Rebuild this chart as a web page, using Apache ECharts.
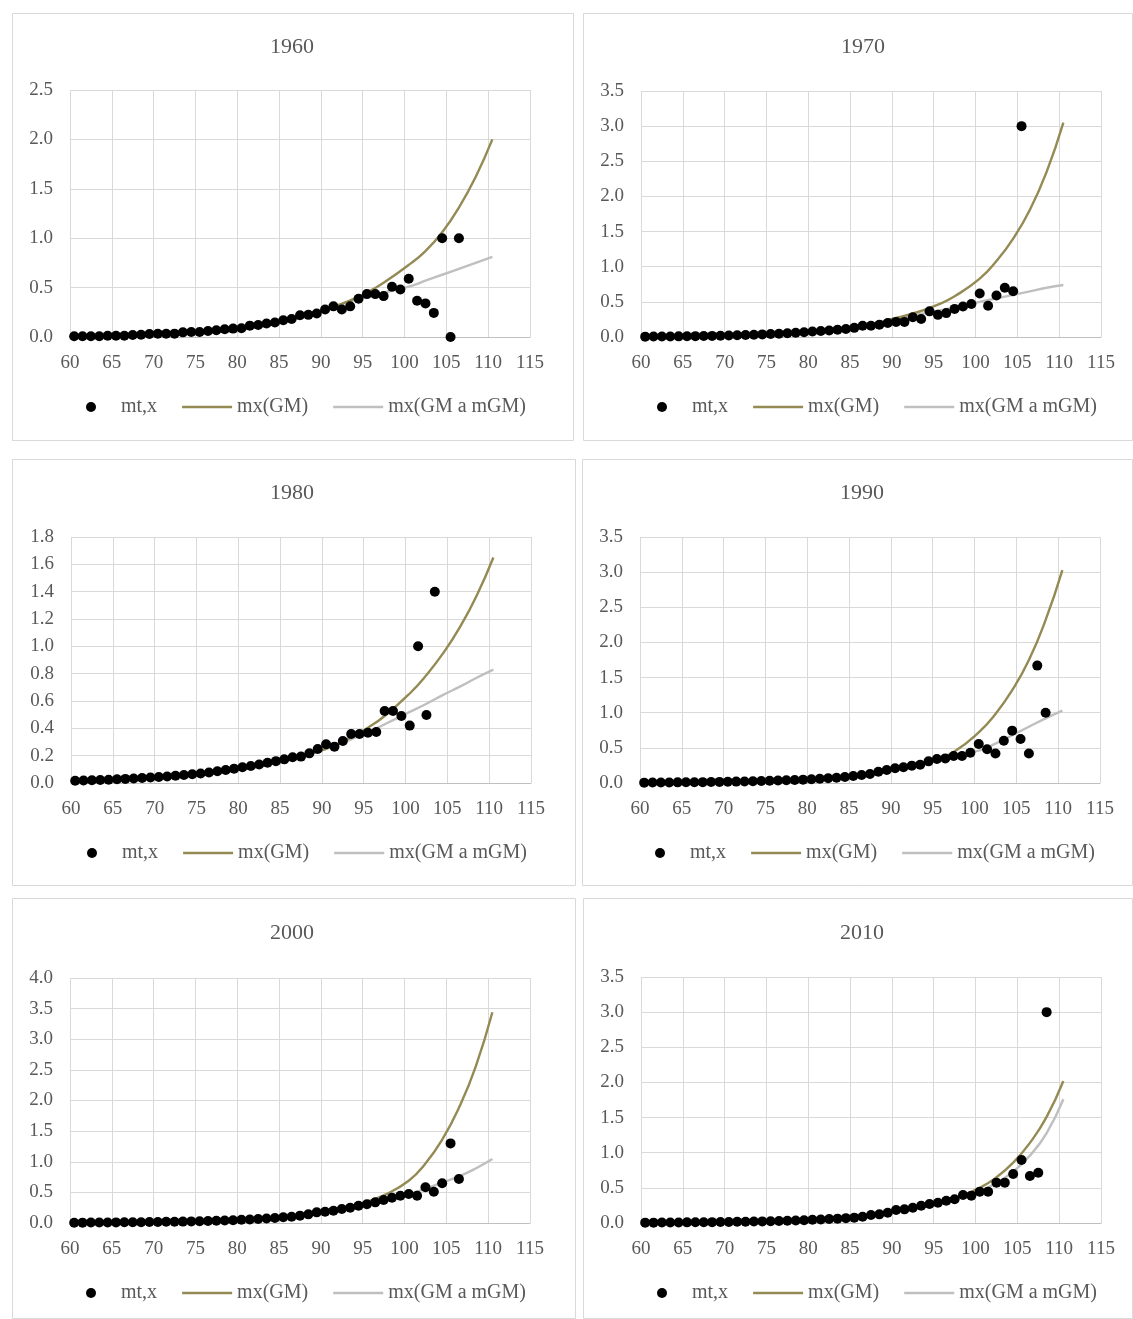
<!DOCTYPE html>
<html>
<head>
<meta charset="utf-8">
<script src="https://cdn.jsdelivr.net/npm/echarts@6/dist/echarts.min.js"></script>
<style>
html, body { margin: 0; padding: 0; background: #fff; }
#main { width: 1133px; height: 1319px; }
</style>
</head>
<body>
<div id="main"></div>
<script>
// observed rates start at age 60.5 and go up by one year
var firstAge = 60.5;
var curveAges = [60.5, 65.5, 70.5, 75.5, 80.5, 85.5, 90.5, 93.5, 95.5, 97.5, 100.5, 102.5, 104.5, 106.5, 108.5, 110.5];

var years = ['1960', '1970', '1980', '1990', '2000', '2010'];
var yMax = [2.5, 3.5, 1.8, 3.5, 4.0, 3.5];
var yStep = [0.5, 0.5, 0.2, 0.5, 0.5, 0.5];
var legendNames = ['mt,x', 'mx(GM)', 'mx(GM a mGM)'];

var mt1960 = [0.007, 0.007, 0.007, 0.007, 0.013, 0.013, 0.013, 0.02, 0.023, 0.03,
    0.033, 0.033, 0.034, 0.047, 0.05, 0.05, 0.06, 0.068, 0.078, 0.085,
    0.088, 0.115, 0.122, 0.136, 0.146, 0.17, 0.183, 0.22, 0.224, 0.237,
    0.278, 0.31, 0.278, 0.31, 0.387, 0.434, 0.434, 0.414, 0.509, 0.48,
    0.59, 0.366, 0.34, 0.244, 1.0, 0.0, 1.0];
var gm1960 = [0.009, 0.015, 0.025, 0.04, 0.075, 0.15, 0.275, 0.37, 0.45, 0.55, 0.73, 0.87, 1.06, 1.31, 1.62, 2.0];
var mgm1960 = [0.009, 0.015, 0.025, 0.04, 0.075, 0.15, 0.275, 0.36, 0.41, 0.45, 0.51, 0.57, 0.63, 0.69, 0.75, 0.81];

var mt1970 = [0.005, 0.006, 0.007, 0.008, 0.009, 0.011, 0.012, 0.014, 0.016, 0.018,
    0.021, 0.024, 0.028, 0.032, 0.037, 0.042, 0.047, 0.053, 0.06, 0.068,
    0.077, 0.085, 0.093, 0.102, 0.115, 0.13, 0.16, 0.16, 0.175, 0.2,
    0.215, 0.215, 0.28, 0.255, 0.365, 0.315, 0.34, 0.4, 0.435, 0.47,
    0.62, 0.445, 0.59, 0.70, 0.65, 3.0];
var gm1970 = [0.005, 0.009, 0.016, 0.03, 0.06, 0.13, 0.27, 0.37, 0.46, 0.58, 0.83, 1.08, 1.40, 1.81, 2.35, 3.05];
var mgm1970 = [0.005, 0.009, 0.016, 0.03, 0.06, 0.13, 0.26, 0.33, 0.375, 0.42, 0.50, 0.55, 0.60, 0.65, 0.70, 0.74];

var mt1980 = [0.017, 0.018, 0.02, 0.022, 0.024, 0.027, 0.03, 0.033, 0.036, 0.04,
    0.044, 0.048, 0.053, 0.058, 0.064, 0.07, 0.077, 0.086, 0.095, 0.105,
    0.115, 0.125, 0.135, 0.148, 0.16, 0.173, 0.188, 0.193, 0.217, 0.249,
    0.283, 0.266, 0.307, 0.358, 0.358, 0.368, 0.373, 0.527, 0.527, 0.49,
    0.42, 1.0, 0.497, 1.40];
var gm1980 = [0.014, 0.023, 0.037, 0.06, 0.1, 0.16, 0.25, 0.335, 0.405, 0.49, 0.655, 0.79, 0.95, 1.14, 1.37, 1.65];
var mgm1980 = [0.014, 0.023, 0.037, 0.06, 0.1, 0.16, 0.25, 0.32, 0.37, 0.43, 0.52, 0.58, 0.645, 0.705, 0.77, 0.83];

var mt1990 = [0.005, 0.006, 0.007, 0.008, 0.009, 0.01, 0.011, 0.012, 0.014, 0.016,
    0.018, 0.02, 0.022, 0.025, 0.028, 0.031, 0.035, 0.039, 0.043, 0.048,
    0.054, 0.06, 0.067, 0.075, 0.085, 0.10, 0.114, 0.128, 0.161, 0.185,
    0.209, 0.223, 0.247, 0.26, 0.308, 0.341, 0.35, 0.384, 0.384, 0.43,
    0.555, 0.479, 0.42, 0.60, 0.745, 0.626, 0.42, 1.67, 1.0];
var gm1990 = [0.004, 0.008, 0.015, 0.027, 0.05, 0.1, 0.19, 0.27, 0.34, 0.44, 0.72, 0.98, 1.32, 1.75, 2.32, 3.03];
var mgm1990 = [0.004, 0.008, 0.015, 0.027, 0.05, 0.1, 0.19, 0.27, 0.33, 0.40, 0.46, 0.56, 0.68, 0.80, 0.92, 1.03];

var mt2000 = [0.005, 0.006, 0.007, 0.008, 0.009, 0.01, 0.011, 0.012, 0.013, 0.015,
    0.017, 0.019, 0.021, 0.023, 0.026, 0.029, 0.033, 0.037, 0.041, 0.046,
    0.052, 0.058, 0.065, 0.073, 0.082, 0.093, 0.103, 0.12, 0.141, 0.174,
    0.185, 0.20, 0.228, 0.25, 0.283, 0.305, 0.337, 0.375, 0.413, 0.446,
    0.473, 0.446, 0.583, 0.511, 0.648, 1.30, 0.718];
var gm2000 = [0.003, 0.006, 0.012, 0.023, 0.047, 0.095, 0.19, 0.28, 0.35, 0.45, 0.69, 0.97, 1.36, 1.88, 2.55, 3.44];
var mgm2000 = [0.003, 0.006, 0.012, 0.023, 0.047, 0.095, 0.19, 0.26, 0.31, 0.37, 0.47, 0.56, 0.66, 0.76, 0.89, 1.045];

var mt2010 = [0.005, 0.005, 0.006, 0.007, 0.008, 0.009, 0.01, 0.011, 0.012, 0.013,
    0.015, 0.017, 0.019, 0.021, 0.023, 0.026, 0.029, 0.032, 0.036, 0.04,
    0.045, 0.05, 0.056, 0.062, 0.069, 0.076, 0.09, 0.114, 0.123, 0.147,
    0.185, 0.194, 0.218, 0.246, 0.27, 0.289, 0.317, 0.337, 0.398, 0.389,
    0.446, 0.446, 0.574, 0.574, 0.697, 0.896, 0.669, 0.716, 3.0];
var gm2010 = [0.005, 0.008, 0.015, 0.027, 0.05, 0.085, 0.165, 0.225, 0.28, 0.35, 0.50, 0.65, 0.86, 1.14, 1.51, 2.02];
var mgm2010 = [0.005, 0.008, 0.015, 0.027, 0.05, 0.085, 0.165, 0.225, 0.28, 0.35, 0.46, 0.57, 0.73, 0.96, 1.28, 1.76];

var mts = [mt1960, mt1970, mt1980, mt1990, mt2000, mt2010];
var gms = [gm1960, gm1970, gm1980, gm1990, gm2000, gm2010];
var mgms = [mgm1960, mgm1970, mgm1980, mgm1990, mgm2000, mgm2010];

// layout (pixels): panel boxes, plot areas, title centres, legend positions
var boxes = [[12, 13, 561, 427], [583, 13, 549, 427], [12, 459, 563, 426],
    [582, 459, 550, 426], [12, 898, 563, 420], [583, 898, 549, 420]];
var grids = [[70, 90, 460, 247], [641, 91, 460, 246], [71, 537, 460, 246],
    [640, 537, 460, 246], [70, 978, 460, 245], [641, 977, 460, 246]];
var titleX = [287, 858, 287, 857, 287, 857];
var titleY = [45, 45, 491, 491, 931, 931];
var legendDotX = [92, 663, 93, 661, 92, 663];
var legendY = [406, 406, 852, 852, 1292, 1292];

var font = 'Liberation Serif';
var textColor = '#595959';
var olive = '#948a54';
var gray = '#bfbfbf';
var lineIcon = 'path://M0 0H50V2.4H0Z';

var chart = echarts.init(document.getElementById('main'));

var option = {
    backgroundColor: '#fff',
    animation: false,
    title: [],
    legend: [],
    grid: [],
    xAxis: [],
    yAxis: [],
    series: [],
    graphic: []
};

for (var i = 0; i < years.length; i++) {
    var b = boxes[i];
    option.graphic.push({
        type: 'rect',
        shape: { x: b[0] + 0.5, y: b[1] + 0.5, width: b[2], height: b[3] },
        style: { fill: 'none', stroke: '#d9d9d9', lineWidth: 1 },
        z: -1
    });
    option.title.push({
        text: years[i],
        left: titleX[i],
        top: titleY[i] - 14,
        textAlign: 'center',
        textStyle: { fontFamily: font, fontSize: 22, fontWeight: 'normal', color: textColor }
    });
    option.legend.push({
        left: legendDotX[i] - 11,
        top: legendY[i] - 14,
        itemWidth: 50,
        itemHeight: 10,
        itemGap: 25,
        textStyle: { fontFamily: font, fontSize: 20, color: textColor },
        data: [
            { name: legendNames[0], icon: 'circle' },
            { name: legendNames[1], icon: lineIcon },
            { name: legendNames[2], icon: lineIcon }
        ]
    });
    var g = grids[i];
    option.grid.push({ left: g[0], top: g[1], width: g[2], height: g[3] });
    option.xAxis.push({
        type: 'value',
        gridIndex: i,
        min: 60,
        max: 115,
        interval: 5,
        axisLine: { show: true, lineStyle: { color: gray, width: 1 } },
        axisTick: { show: false },
        axisLabel: { margin: 17, fontFamily: font, fontSize: 19, color: textColor },
        splitLine: { show: true, lineStyle: { color: '#d9d9d9', width: 1 } }
    });
    option.yAxis.push({
        type: 'value',
        gridIndex: i,
        min: 0,
        max: yMax[i],
        interval: yStep[i],
        axisLine: { show: false },
        axisTick: { show: false },
        axisLabel: {
            margin: 17,
            fontFamily: font,
            fontSize: 19,
            color: textColor,
            formatter: function (v) { return v.toFixed(1); }
        },
        splitLine: { show: true, lineStyle: { color: '#d9d9d9', width: 1 } }
    });

    var dots = mts[i].map(function (v, k) { return [firstAge + k, v]; });
    var gmLine = curveAges.map(function (a, k) { return [a, gms[i][k]]; });
    var mgmLine = curveAges.map(function (a, k) { return [a, mgms[i][k]]; });

    option.series.push({
        name: legendNames[2],
        type: 'line',
        xAxisIndex: i,
        yAxisIndex: i,
        data: mgmLine,
        showSymbol: false,
        symbol: 'none',
        smooth: 0.5,
        lineStyle: { color: gray, width: 2.4 },
        itemStyle: { color: gray },
        z: 2
    }, {
        name: legendNames[1],
        type: 'line',
        xAxisIndex: i,
        yAxisIndex: i,
        data: gmLine,
        showSymbol: false,
        symbol: 'none',
        smooth: 0.5,
        lineStyle: { color: olive, width: 2.4 },
        itemStyle: { color: olive },
        z: 3
    }, {
        name: legendNames[0],
        type: 'scatter',
        xAxisIndex: i,
        yAxisIndex: i,
        data: dots,
        symbol: 'circle',
        symbolSize: 10,
        itemStyle: { color: '#000', opacity: 1 },
        z: 4
    });
}

chart.setOption(option);
</script>
</body>
</html>
